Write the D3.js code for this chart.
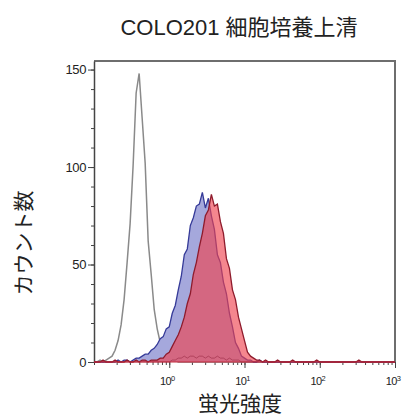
<!DOCTYPE html>
<html>
<head>
<meta charset="utf-8">
<script src="https://cdn.jsdelivr.net/npm/d3@7"></script>
<style>
  body { margin: 0; background: #fff; }
  svg { display: block; font-family: "Liberation Sans", Arial, "Noto Sans CJK JP", sans-serif; }
</style>
</head>
<body>
<div id="graphic"></div>
<script>
// histogram bin centres (log10 of fluorescence)
var bins = [-1.00,-0.96,-0.92,-0.88,-0.84,-0.80,-0.76,-0.72,-0.68,-0.64,
  -0.60,-0.56,-0.52,-0.48,-0.44,-0.40,-0.36,-0.32,-0.28,-0.24,
  -0.20,-0.16,-0.12,-0.08,-0.04,0.00,0.04,0.08,0.12,0.16,
  0.20,0.24,0.28,0.32,0.36,0.40,0.44,0.48,0.52,0.56,
  0.60,0.64,0.68,0.72,0.76,0.80,0.84,0.88,0.92,0.96,
  1.00,1.04,1.08,1.12,1.16,1.20,1.24,1.28,1.32,1.36,
  1.40,1.44,1.48,1.52,1.56,1.60,1.64,1.68,1.72,1.76,
  1.80,1.84,1.88,1.92,1.96,2.00,2.04,2.08,2.12,2.16,
  2.20,2.24,2.28,2.32,2.36,2.40,2.44,2.48,2.52,2.56,
  2.60,2.64,2.68,2.72,2.76,2.80,2.84,2.88,2.92,2.96,
  3.00];

// unstained (grey outline)
var unstained = [0,0,1,0,1,2,3,6,11,19,
  32,51,71,101,138,148,125,102,62,45,
  27,17,10,6,3,2,1,1,0,0,
  0,0,0,0,0,0,0,0,0,0,
  0,0,0,0,0,0,0,0,0,0,
  0,0,0,0,0,0,0,0,0,0,
  0,0,0,0,0,0,0,0,0,0,
  0,0,0,0,0,0,0,0,0,0,
  0,0,0,0,0,0,0,0,0,0,
  0,0,0,0,0,0,0,0,0,0,
  0];

// blue histogram
var blueCounts = [0,0,0,0,0,0,0,0,1,0,
  1,1,0,1,2,2,3,4,4,6,
  7,9,12,13,17,18,25,29,37,44,
  55,58,70,74,80,81,87,79,84,75,
  68,55,51,41,35,25,18,10,7,3,
  2,1,1,0,0,1,0,0,0,0,
  0,0,0,0,0,0,0,0,0,0,
  0,0,0,0,0,0,0,0,0,0,
  0,0,0,0,0,0,0,0,0,0,
  0,0,0,0,0,0,0,0,0,0,
  0];

// red histogram
var redCounts = [0,0,0,1,0,0,0,1,0,0,
  0,1,0,0,1,0,1,1,0,1,
  1,1,2,2,4,5,8,11,14,18,
  23,30,35,45,51,59,66,75,78,86,
  80,81,72,66,53,48,37,32,23,17,
  11,5,3,2,1,1,0,1,0,0,
  0,1,0,0,0,0,1,0,0,0,
  0,0,0,0,1,0,0,0,0,0,
  0,0,0,0,0,0,0,0,1,0,
  0,0,0,0,0,0,0,0,0,0,
  0];

// faint low histogram
var lowCounts = [0,0,0,0,0,0,0,0,0,0,
  0,0,0,0,0,0,0,0,0,0,
  0,0,0,0,0,0,1,1,2,2,
  3,2,3,3,2,3,3,2,3,2,
  2,3,2,2,1,2,1,1,1,0,
  0,0,0,0,0,0,0,0,0,0,
  0,0,0,0,0,0,0,0,0,0,
  0,0,0,0,0,0,0,0,0,0,
  0,0,0,0,0,0,0,0,0,0,
  0,0,0,0,0,0,0,0,0,0,
  0];

var yMajor = [0, 50, 100, 150];
var yMinor = [0,10,20,30,40,50,60,70,80,90,100,110,120,130,140,150];
var xMajor = [1, 10, 100, 1000];
var xExp = ["0", "1", "2", "3"];

var W = 406, H = 417;
var margin = { left: 94, right: 395, top: 61, bottom: 362 };

var svg = d3.select("#graphic").append("svg")
  .attr("width", W)
  .attr("height", H);

var x = d3.scaleLog().domain([0.1, 1000]).range([margin.left, margin.right]);
var y = d3.scaleLinear().domain([0, 154.4]).range([margin.bottom, margin.top]);

function pts(counts) {
  return bins.map(function (b, i) { return [Math.pow(10, b), counts[i]]; });
}

var area = d3.area()
  .x(function (d) { return x(d[0]); })
  .y0(y(0))
  .y1(function (d) { return y(d[1]); });

var line = d3.line()
  .x(function (d) { return x(d[0]); })
  .y(function (d) { return y(d[1]); });

// frame top / right
svg.append("path")
  .attr("d", "M" + margin.left + "," + margin.top + "H" + margin.right + "V" + margin.bottom)
  .attr("fill", "none")
  .attr("stroke", "#6e6e6e")
  .attr("stroke-width", 2);

// y axis
var yAxisMinor = svg.append("g")
  .attr("transform", "translate(" + margin.left + ",0)")
  .call(d3.axisLeft(y).tickValues(yMinor).tickSize(3).tickFormat("").tickSizeOuter(0));
var yAxis = svg.append("g")
  .attr("transform", "translate(" + margin.left + ",0)")
  .call(d3.axisLeft(y).tickValues(yMajor).tickSize(6).tickPadding(2).tickSizeOuter(0));
yAxis.select(".domain").remove();
yAxisMinor.select(".domain").attr("stroke", "#444").attr("stroke-width", 1.5);
yAxis.selectAll("text")
  .attr("font-size", 13)
  .attr("fill", "#222")
  .attr("letter-spacing", -0.4);

// x axis
var xAxisMinor = svg.append("g")
  .attr("transform", "translate(0," + margin.bottom + ")")
  .call(d3.axisBottom(x).tickSize(3).tickFormat("").tickSizeOuter(0));
xAxisMinor.select(".domain").remove();
var xAxis = svg.append("g")
  .attr("transform", "translate(0," + margin.bottom + ")")
  .call(d3.axisBottom(x).tickValues(xMajor).tickSize(6).tickFormat("").tickSizeOuter(0));
xAxis.select(".domain").remove();
svg.selectAll(".tick line").attr("stroke", "#444");

var plot = svg.append("g");

// grey control
plot.append("path")
  .attr("d", line(pts(unstained)))
  .attr("fill", "none")
  .attr("stroke", "#8a8a8a")
  .attr("stroke-width", 1.5);

// blue
plot.append("path")
  .attr("d", area(pts(blueCounts)))
  .attr("fill", "#a5a8dc");
plot.append("path")
  .attr("d", line(pts(blueCounts)))
  .attr("fill", "none")
  .attr("stroke", "#353a98")
  .attr("stroke-width", 1.3);

// red
plot.append("path")
  .attr("d", area(pts(redCounts)))
  .attr("fill", "rgba(240,66,78,0.64)");
plot.append("path")
  .attr("d", line(pts(lowCounts)))
  .attr("fill", "none")
  .attr("stroke", "#9a2a45")
  .attr("stroke-opacity", 0.6)
  .attr("stroke-width", 1);
plot.append("path")
  .attr("d", line(pts(redCounts)))
  .attr("fill", "none")
  .attr("stroke", "#8e1b2c")
  .attr("stroke-width", 1.3);

// baseline over the axis
plot.append("line")
  .attr("x1", margin.left).attr("x2", margin.right)
  .attr("y1", y(0)).attr("y2", y(0))
  .attr("stroke", "#c0283a")
  .attr("stroke-width", 1.2);

var xl = svg.append("g").selectAll("text")
  .data(xMajor)
  .enter().append("text")
  .attr("x", function (d) { return x(d) - 2; })
  .attr("y", 385)
  .attr("text-anchor", "middle")
  .attr("font-size", 11)
  .attr("fill", "#222")
  .attr("letter-spacing", -0.6);
xl.append("tspan").text("10");
xl.append("tspan")
  .attr("dy", -4)
  .attr("font-size", 7.5)
  .text(function (d, i) { return xExp[i]; });

// titles
svg.append("text")
  .attr("x", 239)
  .attr("y", 35)
  .attr("text-anchor", "middle")
  .attr("font-size", 22)
  .attr("fill", "#222")
  .text("COLO201 細胞培養上清");

svg.append("text")
  .attr("x", 240)
  .attr("y", 411)
  .attr("text-anchor", "middle")
  .attr("font-size", 21)
  .attr("fill", "#222")
  .text("蛍光強度");

svg.append("text")
  .attr("transform", "translate(31,243) rotate(-90)")
  .attr("text-anchor", "middle")
  .attr("font-size", 21)
  .attr("fill", "#222")
  .text("カウント数");
</script>
</body>
</html>
